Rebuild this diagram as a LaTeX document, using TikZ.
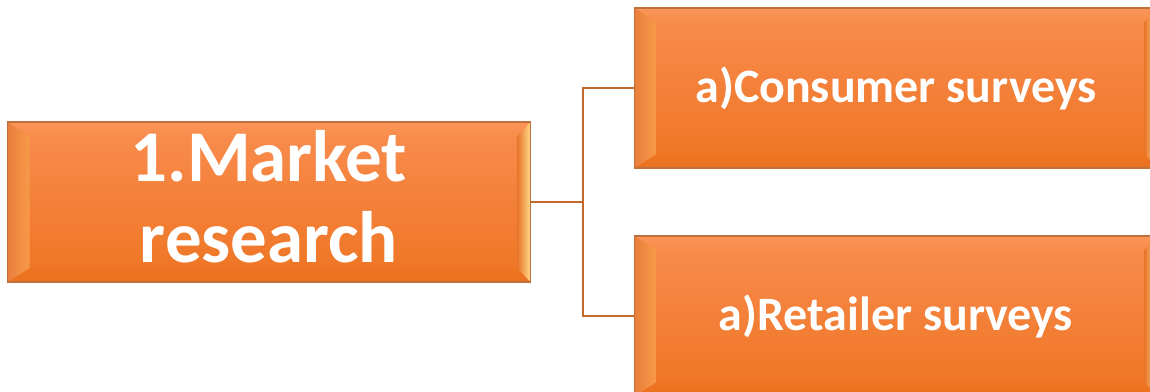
\documentclass[tikz,border=0pt]{standalone}
\usepackage{fontspec}
\newfontfamily\calib{Carlito}
\usetikzlibrary{calc}
\definecolor{boxtop}{HTML}{F98D50}
\definecolor{boxbot}{HTML}{EE7422}
\definecolor{boxedge}{HTML}{C0703A}
\definecolor{lnk}{HTML}{C5682C}
\definecolor{bevdark}{HTML}{E97E3C}
\definecolor{bevlight}{HTML}{FFDA8A}
\definecolor{bevmid}{HTML}{F89A48}
\definecolor{bevdarkr}{HTML}{E8762C}
\definecolor{bevtop}{HTML}{FA9558}
\definecolor{bevtopb}{HTML}{F98D4C}
\definecolor{bevbot}{HTML}{E9721F}
\tikzset{
  bevbox/.style={draw=boxedge, line width=0.6pt, top color=boxtop, bottom color=boxbot,
    minimum width=10.46cm, minimum height=3.2cm, inner sep=0pt, outer sep=0pt,
    text=white, align=center,
    path picture={
      \path (path picture bounding box.north west) coordinate (pnw)
            (path picture bounding box.south east) coordinate (pse)
            (path picture bounding box.north east) coordinate (pne)
            (path picture bounding box.south west) coordinate (psw);
      \shade[top color=bevtop, bottom color=bevtopb]
        (pnw) -- (pne) -- ($(pne)+(-13,-14)$) -- ($(pnw)+(22,-14)$) -- cycle;
      \shade[top color=boxbot, bottom color=bevbot]
        (psw) -- (pse) -- ($(pse)+(-13,14)$) -- ($(psw)+(22,14)$) -- cycle;
      \shade[left color=bevdark, middle color=bevlight, right color=bevmid]
        (pnw) -- ($(pnw)+(22,-14)$) -- ($(psw)+(22,14)$) -- (psw) -- cycle;
      \shade[left color=bevdarkr, right color=bevlight]
        (pne) -- ($(pne)+(-13,-14)$) -- ($(pse)+(-13,14)$) -- (pse) -- cycle;
    }},
  bigtext/.style={font=\calib\bfseries\fontsize{41.5}{46}\selectfont},
  smalltext/.style={font=\calib\bfseries\fontsize{27.3}{32}\selectfont},
  mainlink/.style={draw=lnk, line width=1.6pt},
  branchlink/.style={draw=lnk, line width=1.1pt}
}
\begin{document}
\begin{tikzpicture}[x=0.02cm, y=0.02cm]
  \useasboundingbox (0,0) rectangle (1150,-392);
  \clip (0,0) rectangle (1150,-392);
  \node[bevbox, bigtext] (L) at (269,-202) {1.Market\\research\rule[-0.22cm]{0pt}{0pt}};
  \node[bevbox, smalltext] (A) at (896,-88) {a)Consumer surveys};
  \node[bevbox, smalltext] (B) at (896,-316) {a)Retailer surveys};
  \coordinate (J) at (583,-202);
  \draw[mainlink] (L.east) -- (J);
  \draw[branchlink] (J) |- (A.west);
  \draw[branchlink] (J) |- (B.west);
\end{tikzpicture}
\end{document}
